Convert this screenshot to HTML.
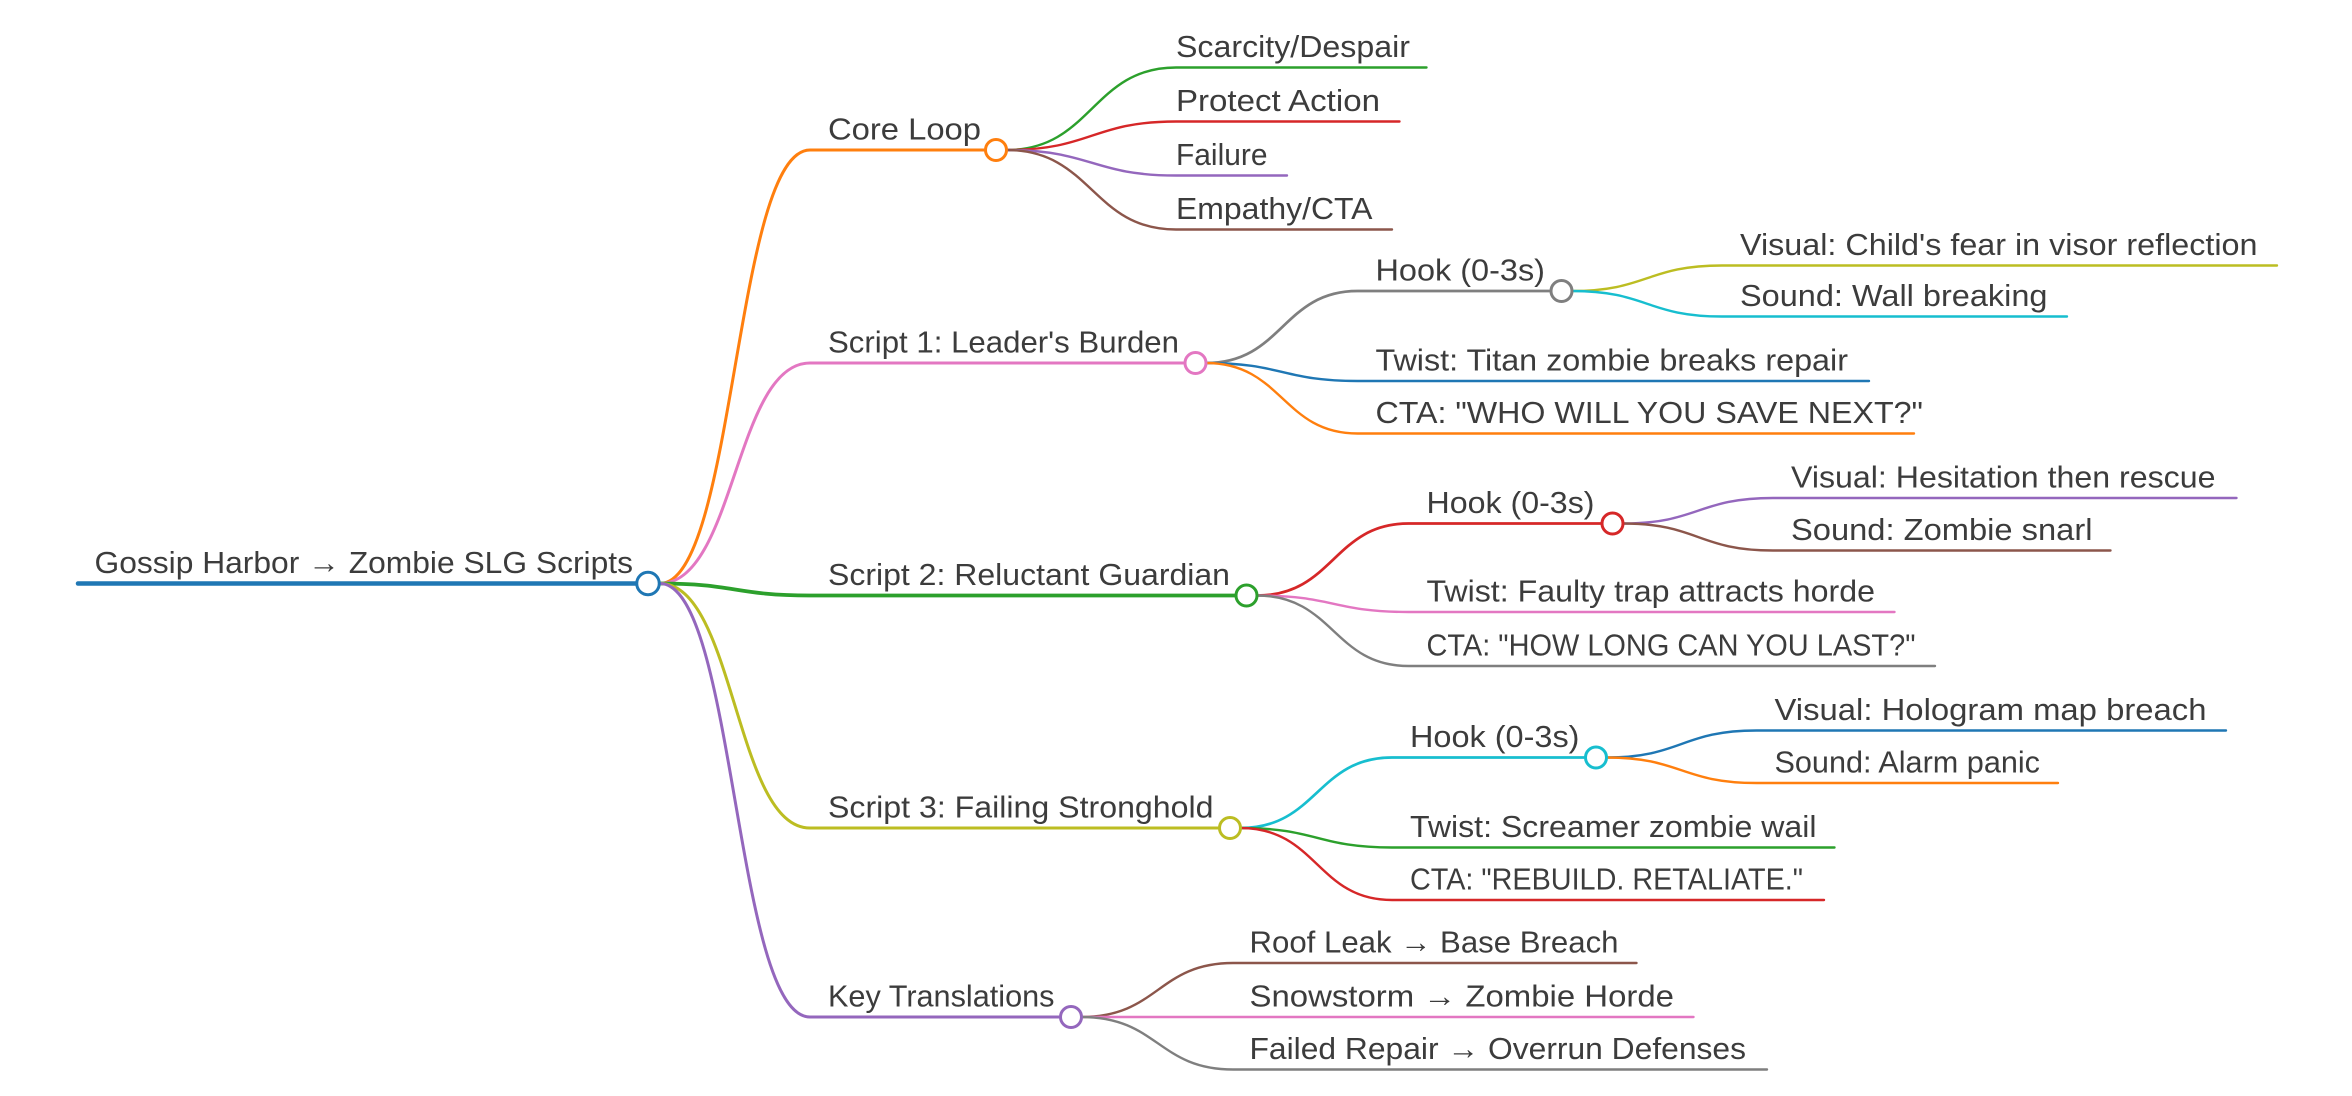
<!DOCTYPE html>
<html><head><meta charset="utf-8"><style>
html,body{margin:0;padding:0;background:#fff;width:2352px;height:1096px;overflow:hidden}
svg{display:block}
text{font-family:"Liberation Sans",sans-serif;font-size:20.5px;fill:#3c3c3c;}
</style></head><body>
<svg width="2352" height="1096" viewBox="0 0 1568 730.67" xmlns="http://www.w3.org/2000/svg">
<g fill="none" stroke-linecap="round">
<path d="M52 389 L426 389" stroke="#1f77b4" stroke-width="3"/>
<path d="M440 389 C490 389 490 100 540 100 L658 100" stroke="#ff7f0e" stroke-width="2"/>
<path d="M440 389 C490 389 490 242 540 242 L791 242" stroke="#e377c2" stroke-width="2"/>
<path d="M440 389 C490 389 490 397 540 397 L825 397" stroke="#2ca02c" stroke-width="2.5"/>
<path d="M440 389 C490 389 490 552 540 552 L814 552" stroke="#bcbd22" stroke-width="2"/>
<path d="M440 389 C490 389 490 678 540 678 L708 678" stroke="#9467bd" stroke-width="2"/>
<path d="M671 100 C728 100 728 45 784 45 L951 45" stroke="#2ca02c" stroke-width="1.6"/>
<path d="M671 100 C728 100 728 81 784 81 L933 81" stroke="#d62728" stroke-width="1.6"/>
<path d="M671 100 C728 100 728 117 784 117 L858 117" stroke="#9467bd" stroke-width="1.6"/>
<path d="M671 100 C728 100 728 153 784 153 L928 153" stroke="#8c564b" stroke-width="1.6"/>
<path d="M804 242 C855 242 855 194 905 194 L1035 194" stroke="#7f7f7f" stroke-width="1.8"/>
<path d="M804 242 C855 242 855 254 905 254 L1246 254" stroke="#1f77b4" stroke-width="1.6"/>
<path d="M804 242 C855 242 855 289 905 289 L1276 289" stroke="#ff7f0e" stroke-width="1.6"/>
<path d="M1048 194 C1098 194 1098 177 1148 177 L1518 177" stroke="#bcbd22" stroke-width="1.6"/>
<path d="M1048 194 C1098 194 1098 211 1148 211 L1378 211" stroke="#17becf" stroke-width="1.6"/>
<path d="M838 397 C889 397 889 349 939 349 L1069 349" stroke="#d62728" stroke-width="1.8"/>
<path d="M838 397 C889 397 889 408 939 408 L1263 408" stroke="#e377c2" stroke-width="1.6"/>
<path d="M838 397 C889 397 889 444 939 444 L1290 444" stroke="#7f7f7f" stroke-width="1.6"/>
<path d="M1082 349 C1132 349 1132 332 1182 332 L1491 332" stroke="#9467bd" stroke-width="1.6"/>
<path d="M1082 349 C1132 349 1132 367 1182 367 L1407 367" stroke="#8c564b" stroke-width="1.6"/>
<path d="M827 552 C878 552 878 505 928 505 L1058 505" stroke="#17becf" stroke-width="1.8"/>
<path d="M827 552 C878 552 878 565 928 565 L1223 565" stroke="#2ca02c" stroke-width="1.6"/>
<path d="M827 552 C878 552 878 600 928 600 L1216 600" stroke="#d62728" stroke-width="1.6"/>
<path d="M1071 505 C1121 505 1121 487 1171 487 L1484 487" stroke="#1f77b4" stroke-width="1.6"/>
<path d="M1071 505 C1121 505 1121 522 1171 522 L1372 522" stroke="#ff7f0e" stroke-width="1.6"/>
<path d="M721 678 C772 678 772 642 822 642 L1091 642" stroke="#8c564b" stroke-width="1.6"/>
<path d="M721 678 C772 678 772 678 822 678 L1129 678" stroke="#e377c2" stroke-width="1.6"/>
<path d="M721 678 C772 678 772 713 822 713 L1178 713" stroke="#7f7f7f" stroke-width="1.6"/>
</g>
<g fill="#fff" stroke-width="2">
<circle cx="432" cy="389" r="7.5" stroke="#1f77b4"/>
<circle cx="664" cy="100" r="7" stroke="#ff7f0e"/>
<circle cx="797" cy="242" r="7" stroke="#e377c2"/>
<circle cx="831" cy="397" r="7" stroke="#2ca02c"/>
<circle cx="820" cy="552" r="7" stroke="#bcbd22"/>
<circle cx="714" cy="678" r="7" stroke="#9467bd"/>
<circle cx="1041" cy="194" r="7" stroke="#7f7f7f"/>
<circle cx="1075" cy="349" r="7" stroke="#d62728"/>
<circle cx="1064" cy="505" r="7" stroke="#17becf"/>
</g>
<g>
<text x="63" y="382" textLength="359" lengthAdjust="spacingAndGlyphs">Gossip Harbor → Zombie SLG Scripts</text>
<text x="552" y="93" textLength="102" lengthAdjust="spacingAndGlyphs">Core Loop</text>
<text x="552" y="235" textLength="234" lengthAdjust="spacingAndGlyphs">Script 1: Leader's Burden</text>
<text x="552" y="390" textLength="268" lengthAdjust="spacingAndGlyphs">Script 2: Reluctant Guardian</text>
<text x="552" y="545" textLength="257" lengthAdjust="spacingAndGlyphs">Script 3: Failing Stronghold</text>
<text x="552" y="671" textLength="151" lengthAdjust="spacingAndGlyphs">Key Translations</text>
<text x="784" y="38" textLength="156" lengthAdjust="spacingAndGlyphs">Scarcity/Despair</text>
<text x="784" y="74" textLength="136" lengthAdjust="spacingAndGlyphs">Protect Action</text>
<text x="784" y="110" textLength="61" lengthAdjust="spacingAndGlyphs">Failure</text>
<text x="784" y="146" textLength="131" lengthAdjust="spacingAndGlyphs">Empathy/CTA</text>
<text x="917" y="187" textLength="113" lengthAdjust="spacingAndGlyphs">Hook (0-3s)</text>
<text x="917" y="247" textLength="315" lengthAdjust="spacingAndGlyphs">Twist: Titan zombie breaks repair</text>
<text x="917" y="282" textLength="365" lengthAdjust="spacingAndGlyphs">CTA: "WHO WILL YOU SAVE NEXT?"</text>
<text x="1160" y="170" textLength="345" lengthAdjust="spacingAndGlyphs">Visual: Child's fear in visor reflection</text>
<text x="1160" y="204" textLength="205" lengthAdjust="spacingAndGlyphs">Sound: Wall breaking</text>
<text x="951" y="342" textLength="112" lengthAdjust="spacingAndGlyphs">Hook (0-3s)</text>
<text x="951" y="401" textLength="299" lengthAdjust="spacingAndGlyphs">Twist: Faulty trap attracts horde</text>
<text x="951" y="437" textLength="326" lengthAdjust="spacingAndGlyphs">CTA: "HOW LONG CAN YOU LAST?"</text>
<text x="1194" y="325" textLength="283" lengthAdjust="spacingAndGlyphs">Visual: Hesitation then rescue</text>
<text x="1194" y="360" textLength="201" lengthAdjust="spacingAndGlyphs">Sound: Zombie snarl</text>
<text x="940" y="498" textLength="113" lengthAdjust="spacingAndGlyphs">Hook (0-3s)</text>
<text x="940" y="558" textLength="271" lengthAdjust="spacingAndGlyphs">Twist: Screamer zombie wail</text>
<text x="940" y="593" textLength="262" lengthAdjust="spacingAndGlyphs">CTA: "REBUILD. RETALIATE."</text>
<text x="1183" y="480" textLength="288" lengthAdjust="spacingAndGlyphs">Visual: Hologram map breach</text>
<text x="1183" y="515" textLength="177" lengthAdjust="spacingAndGlyphs">Sound: Alarm panic</text>
<text x="833" y="635" textLength="246" lengthAdjust="spacingAndGlyphs">Roof Leak → Base Breach</text>
<text x="833" y="671" textLength="283" lengthAdjust="spacingAndGlyphs">Snowstorm → Zombie Horde</text>
<text x="833" y="706" textLength="331" lengthAdjust="spacingAndGlyphs">Failed Repair → Overrun Defenses</text>
</g>
</svg>
</body></html>
